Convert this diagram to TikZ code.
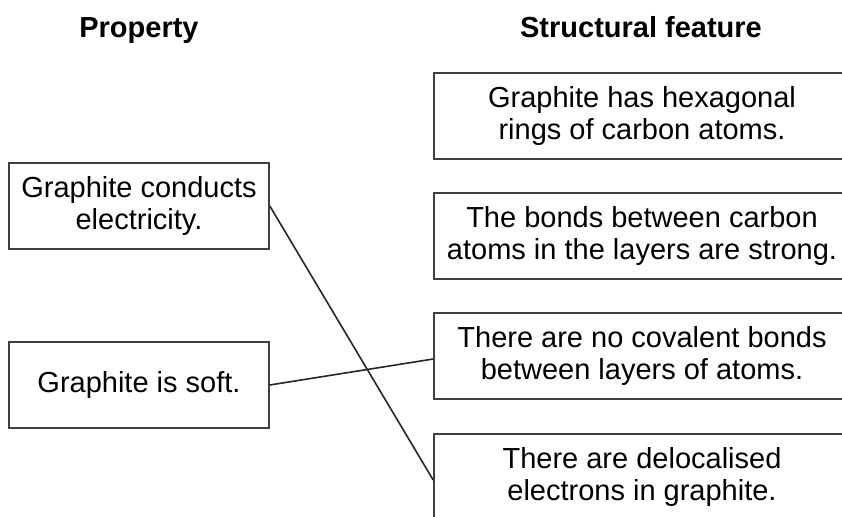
\documentclass[tikz,border=0pt]{standalone}
\usepackage{fontspec}
\setmainfont{Liberation Sans}

\begin{document}
\begin{tikzpicture}[x=1pt,y=-1pt,font=\fontsize{29}{32}\selectfont]
      \useasboundingbox (0,0) rectangle (842,516);
      \node[anchor=base,font=\fontsize{29}{32}\selectfont\bfseries] (prop) at (139,38) {Property};
      \node[anchor=base,font=\fontsize{29}{32}\selectfont\bfseries] (feat) at (641,38) {Structural feature};
      \begin{scope}[every node/.style={draw=black!75,line width=1.6pt,align=center,inner sep=0pt,minimum height=86pt}]
        \node[minimum width=260pt] (cond) at (139,206) {Graphite conducts\\electricity.};
        \node[minimum width=260pt] (soft) at (139,385) {Graphite is soft.};
        \node[minimum width=416pt] (hex) at (642,116) {Graphite has hexagonal\\rings of carbon atoms.};
        \node[minimum width=416pt] (strong) at (642,236) {The bonds between carbon\\atoms in the layers are strong.};
        \node[minimum width=416pt] (noco) at (642,356) {There are no covalent bonds\\between layers of atoms.};
        \node[minimum width=416pt] (deloc) at (642,477) {There are delocalised\\electrons in graphite.};
      \end{scope}
      \begin{scope}[every edge/.style={draw,line width=1.6pt,black!85}]
        \path (cond.east) edge ([yshift=-3pt]deloc.west);
        \path (soft.east) edge ([yshift=-3pt]noco.west);
      \end{scope}
    \end{tikzpicture}
\end{document}
